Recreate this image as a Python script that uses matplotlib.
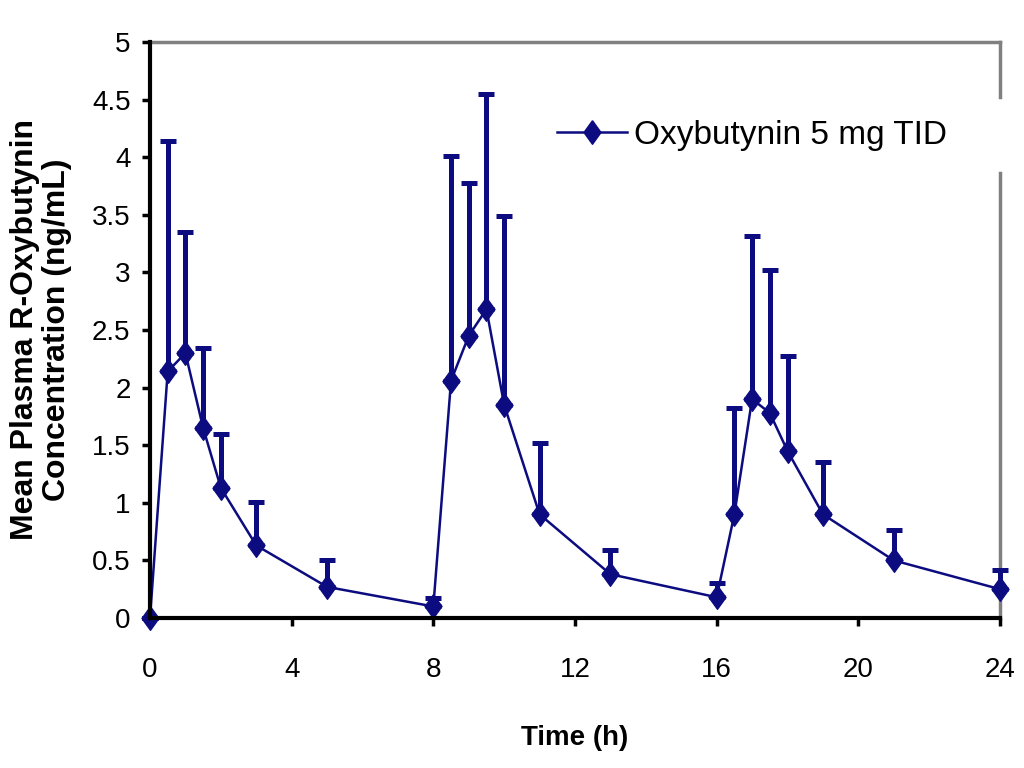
import numpy as np
import matplotlib
matplotlib.use('Agg')
import matplotlib.pyplot as plt

plt.rcParams['font.family'] = ['Liberation Sans', 'DejaVu Sans']

# время (ч), средняя концентрация и верхняя граница планки
time_h = [0, 0.5, 1, 1.5, 2, 3, 5, 8, 8.5, 9, 9.5, 10, 11, 13, 16, 16.5, 17, 17.5, 18, 19, 21, 24]
conc = [0, 2.14, 2.30, 1.65, 1.13, 0.63, 0.27, 0.10, 2.06, 2.45, 2.68, 1.85, 0.90, 0.38,
        0.18, 0.90, 1.90, 1.78, 1.45, 0.90, 0.50, 0.25]
upper = [0, 4.14, 3.35, 2.34, 1.60, 1.01, 0.50, 0.17, 4.01, 3.78, 4.55, 3.49, 1.52, 0.59,
         0.30, 1.82, 3.32, 3.02, 2.27, 1.35, 0.76, 0.42]
series_name = 'Oxybutynin 5 mg TID'

x_ticks = [0, 4, 8, 12, 16, 20, 24]
y_ticks = [0, 0.5, 1, 1.5, 2, 2.5, 3, 3.5, 4, 4.5, 5]
y_tick_labels = ['0', '0.5', '1', '1.5', '2', '2.5', '3', '3.5', '4', '4.5', '5']

conc = np.array(conc)
err_up = np.array(upper) - conc
err_low = np.zeros_like(conc)

fig = plt.figure(figsize=(10.24, 7.68), dpi=100)
ax = fig.add_axes([150/1024, 1 - 618/768, 850/1024, 576/768])

col = '#0c0c80'
diamond = [(0, 1), (0.72, 0), (0, -1), (-0.72, 0), (0, 1)]
ax.errorbar(time_h, conc, yerr=[err_low, err_up], fmt='none', ecolor=col,
            elinewidth=3.6, capsize=6, capthick=3.6, clip_on=False, zorder=3)
ax.plot(time_h, conc, color=col, lw=1.8, marker=diamond, markersize=17,
        markerfacecolor=col, markeredgecolor=col, clip_on=False, zorder=4,
        label=series_name)

ax.set_xlim(0, 24)
ax.set_ylim(0, 5)
ax.set_xticks(x_ticks)
ax.set_yticks(y_ticks)
ax.set_yticklabels(y_tick_labels)
ax.tick_params(axis='both', direction='out', length=6, width=2.5, color='black', labelsize=20)
ax.tick_params(axis='y', pad=8)
ax.tick_params(axis='x', pad=22)

ax.spines['left'].set_linewidth(3)
ax.spines['bottom'].set_linewidth(3)
ax.spines['left'].set_zorder(5)
ax.spines['bottom'].set_zorder(5)
ax.spines['top'].set_color('#808080')
ax.spines['top'].set_linewidth(2.5)
ax.spines['right'].set_visible(False)
# правая рамка с разрывом под легендой
ax.axvline(24, ymin=0, ymax=3.86/5, color='#808080', lw=2.5, clip_on=False, zorder=1)
ax.axvline(24, ymin=4.525/5, ymax=1, color='#808080', lw=2.5, clip_on=False, zorder=1)

ax.set_xlabel('Time (h)', fontsize=20, fontweight='bold', labelpad=30)
ax.set_ylabel('Mean Plasma R-Oxybutynin\nConcentration (ng/mL)', fontsize=23,
              fontweight='bold', labelpad=14, linespacing=1.1)

ax.legend(loc='center left', bbox_to_anchor=(0.479, 0.8385), frameon=False,
          fontsize=24, handlelength=2.1, handletextpad=0.2, borderpad=0, borderaxespad=0)

fig.savefig('out.png', dpi=100)
